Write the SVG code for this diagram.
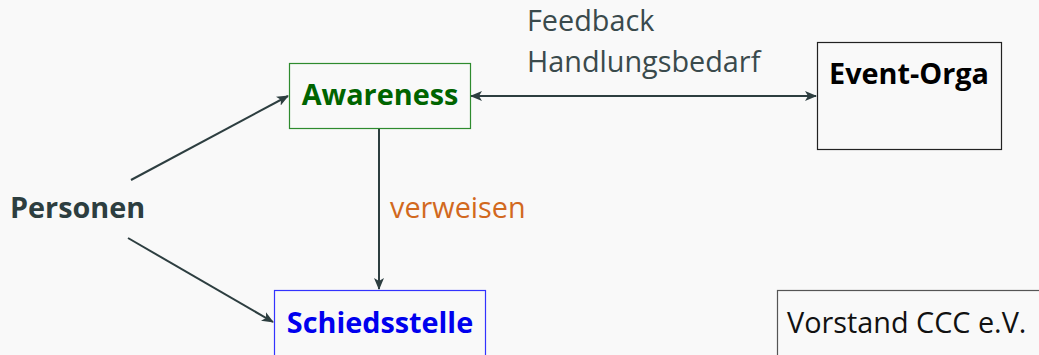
<svg xmlns="http://www.w3.org/2000/svg" width="1039" height="355" viewBox="0 0 1039 355">
<style>
.bg{fill:#f9f9f9}
.box{fill:#f9f9f9;stroke-width:1.2}
.t{font-family:"Open Sans","Noto Sans",sans-serif;font-size:28.8px}
.b{font-weight:bold}
.edge{stroke:#2d3e40;stroke-width:2;fill:none}
</style>
<defs>
<marker id="ah" viewBox="0 0 12 10" refX="11" refY="5" markerWidth="12" markerHeight="10" markerUnits="userSpaceOnUse" orient="auto-start-reverse">
<path d="M0,0 L12,5 L0,10 L3,5 Z" fill="#2d3e40"/>
</marker>
</defs>
<rect class="bg" x="0" y="0" width="1039" height="355"/>
<g id="connectors">
<line class="edge" x1="131" y1="180" x2="288" y2="96" marker-end="url(#ah)"/>
<line class="edge" x1="128" y1="238" x2="273" y2="322" marker-end="url(#ah)"/>
<line class="edge" x1="379" y1="128" x2="379" y2="289" marker-end="url(#ah)"/>
<line class="edge" x1="471" y1="96" x2="816" y2="96" marker-start="url(#ah)" marker-end="url(#ah)"/>
<text class="t" x="527" y="31" fill="#3a4a4c">Feedback</text>
<text class="t" x="527" y="72" fill="#3a4a4c">Handlungsbedarf</text>
<text class="t" x="390" y="218" fill="#d2691e">verweisen</text>
</g>
<g id="personen">
<text class="t b" x="10" y="218" fill="#2d3e40">Personen</text>
</g>
<g id="awareness">
<rect class="box" x="289.5" y="63.5" width="181" height="65" stroke="#2e8b2e"/>
<text class="t b" x="380" y="105" text-anchor="middle" fill="#006400">Awareness</text>
</g>
<g id="event-orga">
<rect class="box" x="817.5" y="42.5" width="184" height="107" stroke="#222"/>
<text class="t b" x="909" y="84" text-anchor="middle" fill="#000">Event-Orga</text>
</g>
<g id="schiedsstelle">
<rect class="box" x="274.5" y="290.5" width="211" height="70" stroke="#3333ff"/>
<text class="t b" x="380" y="333" text-anchor="middle" fill="#0000ee">Schiedsstelle</text>
</g>
<g id="vorstand">
<rect class="box" x="777.5" y="290.5" width="270" height="70" stroke="#555"/>
<text class="t" x="787" y="333" fill="#111">Vorstand CCC e.V.</text>
</g>
</svg>
